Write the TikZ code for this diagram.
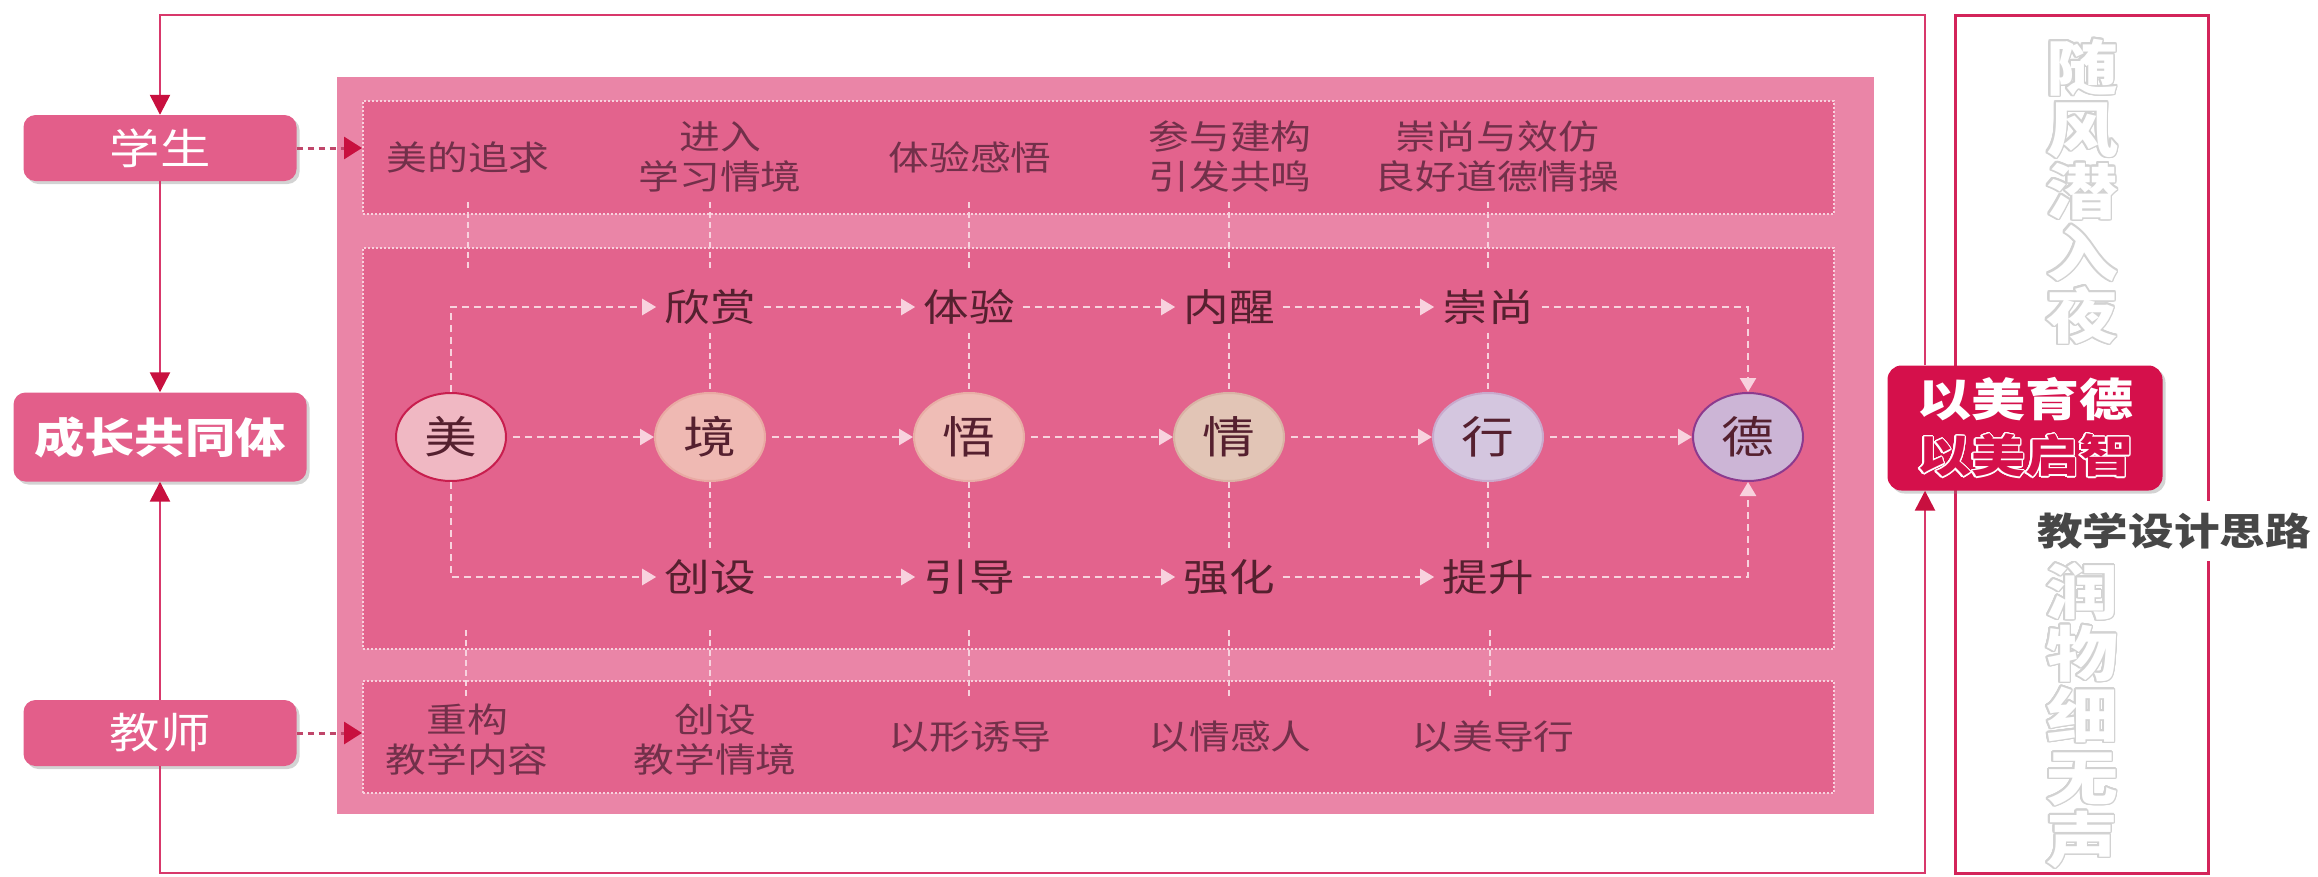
\documentclass[tikz,border=0pt]{standalone}
\usepackage{fontspec}
\usepackage[copies]{contour}
\usetikzlibrary{arrows.meta, shapes.geometric, shadows}

\newfontfamily\cjk{Noto Sans CJK SC}[FakeStretch=1.2]
\contournumber{24}

\definecolor{framered}{HTML}{D8386B}
\definecolor{tipred}{HTML}{C8103F}
\definecolor{panelpink}{HTML}{EA85A7}
\definecolor{bandpink}{HTML}{E3638D}
\definecolor{sidepink}{HTML}{E35E8A}
\definecolor{goalred}{HTML}{D5104B}
\definecolor{dashpink}{HTML}{F8D2DE}
\definecolor{inkdark}{HTML}{55202F}
\definecolor{inknote}{HTML}{72304A}
\definecolor{askred}{HTML}{C0466A}
\definecolor{poemgrey}{HTML}{D2D2D2}
\definecolor{titlegrey}{HTML}{474747}

\newcommand{\rim}[3]{{\contourlength{#1}\contour{#2}{#3}}}

\begin{document}
\begin{tikzpicture}[x=1pt, y=-1pt,
	side box/.style={rounded corners=12pt, fill=sidepink, text=white,
		drop shadow={opacity=0.35, shadow xshift=3pt, shadow yshift=-3pt},
		minimum width=273pt, minimum height=66pt, inner sep=0pt,
		font=\cjk\fontsize{42}{42}\selectfont},
	band/.style={anchor=north west, fill=bandpink, draw=dashpink, line width=1.5pt,
		dash pattern=on 2pt off 2pt, minimum width=1471pt, inner sep=0pt},
	stage/.style={ellipse, minimum width=110pt, minimum height=88pt, inner sep=0pt,
		line width=2pt, text=inkdark, font=\cjk\fontsize{44}{44}\selectfont},
	route/.style={inner sep=8pt, text=inkdark, font=\cjk\fontsize{38}{38}\selectfont},
	note/.style={align=center, text=inknote, font=\cjk\fontsize{34}{40}\selectfont},
	flow/.style={draw=dashpink, line width=2.5pt, dash pattern=on 7pt off 5pt,
		-{Triangle[length=14pt, width=16pt]}},
	guide/.style={draw=dashpink, line width=2pt, dash pattern=on 6pt off 4pt},
	frame line/.style={draw=framered, line width=2.5pt},
	tip/.style={-{Triangle[length=20pt, width=20pt, color=tipred]}},
	ask/.style={draw=askred, line width=3pt, dash pattern=on 6pt off 5pt,
		-{Triangle[length=18pt, width=22pt, color=tipred]}},
	goal box/.style={rounded corners=14pt, fill=goalred, text=white, align=center,
		drop shadow={opacity=0.35, shadow xshift=3pt, shadow yshift=-3pt},
		minimum width=275pt, minimum height=125pt, inner sep=0pt,
		font=\cjk\bfseries\fontsize{45}{56}\selectfont},
	poem/.style={align=center, text=white, font=\cjk\bfseries\fontsize{60}{62}\selectfont},
	]
	\useasboundingbox (0,0) rectangle (2318,876);

	\coordinate (frame top left) at (160,15);
	\coordinate (frame top right) at (1925,15);
	\coordinate (frame bottom right) at (1925,873);
	\coordinate (frame bottom left) at (160,873);

	%left column
	\node[side box] (student) at (160,148) {学生};
	\node[side box, minimum width=293pt, minimum height=89pt,
		font=\cjk\bfseries\fontsize{42}{42}\selectfont] (community) at (160,437) {成长共同体};
	\node[side box] (teacher) at (160,733) {教师};

	%main panel
	\fill[panelpink] (337,77) rectangle (1874,814);
	\node[band, minimum height=113pt] (pursuit band) at (362,100) {};
	\node[band, minimum height=401pt] (process band) at (362,247) {};
	\node[band, minimum height=112pt] (guide band) at (362,680) {};

	%stages
	\node[stage, fill={rgb,255:red,240;green,184;blue,195}, draw={rgb,255:red,200;green,30;blue,78}] (mei) at (451,437) {美};
	\node[stage, fill={rgb,255:red,239;green,185;blue,179}, draw={rgb,255:red,233;green,169;blue,163}] (jing) at (710,437) {境};
	\node[stage, fill={rgb,255:red,239;green,189;blue,182}, draw={rgb,255:red,232;green,174;blue,166}] (wu) at (969,437) {悟};
	\node[stage, fill={rgb,255:red,226;green,197;blue,182}, draw={rgb,255:red,217;green,179;blue,165}] (qing) at (1229,437) {情};
	\node[stage, fill={rgb,255:red,212;green,198;blue,223}, draw={rgb,255:red,201;green,169;blue,204}] (xing) at (1488,437) {行};
	\node[stage, fill={rgb,255:red,204;green,181;blue,214}, draw={rgb,255:red,140;green,58;blue,142}] (de) at (1748,437) {德};

	%upper and lower routes
	\node[route] (xinshang) at (710,307) {欣赏};
	\node[route] (tiyan) at (969,307) {体验};
	\node[route] (neixing) at (1229,307) {内醒};
	\node[route] (chongshang) at (1488,307) {崇尚};
	\node[route] (chuangshe) at (710,577) {创设};
	\node[route] (yindao) at (969,577) {引导};
	\node[route] (qianghua) at (1229,577) {强化};
	\node[route] (tisheng) at (1488,577) {提升};

	%student notes
	\node[note] (pursuit) at (468,158) {美的追求};
	\node[note] (enter) at (720,157) {进入\\学习情境};
	\node[note] (feel) at (970,157) {体验感悟};
	\node[note] (build) at (1230,157) {参与建构\\引发共鸣};
	\node[note] (admire) at (1497,157) {崇尚与效仿\\良好道德情操};

	%teacher notes
	\node[note] (rebuild) at (467,740) {重构\\教学内容};
	\node[note] (create) at (715,740) {创设\\教学情境};
	\node[note] (shape) at (970,737) {以形诱导};
	\node[note] (emotion) at (1230,737) {以情感人};
	\node[note] (beauty) at (1493,737) {以美导行};

	%column guides
	\foreach \u/\c/\l in {xinshang/jing/chuangshe, tiyan/wu/yindao, neixing/qing/qianghua, chongshang/xing/tisheng}
	{
		\draw[guide] (\u.south) -- (\c.north);
		\draw[guide] (\c.south) -- (\l.north);
	}
	\foreach \x in {468,710,969,1229,1488}
		\draw[guide] (\x,202) -- (\x,268);
	\foreach \x in {466,710,969,1229,1490}
		\draw[guide] (\x,630) -- (\x,697);

	%flows
	\foreach \a/\b in {mei/jing, jing/wu, wu/qing, qing/xing, xing/de}
		\draw[flow, shorten <=6pt] (\a.east) -- (\b.west);
	\foreach \a/\b in {xinshang/tiyan, tiyan/neixing, neixing/chongshang, chuangshe/yindao, yindao/qianghua, qianghua/tisheng}
		\draw[flow] (\a.east) -- (\b.west);
	\draw[flow] (mei.north) |- (xinshang.west);
	\draw[flow] (mei.south) |- (chuangshe.west);
	\draw[flow] (chongshang.east) -| (de.north);
	\draw[flow] (tisheng.east) -| (de.south);

	%right side
	\draw[draw={rgb,255:red,211;green,36;blue,90}, line width=3pt] (1955,15) rectangle (2208,873);
	\node[poem] (poem top) at (2082,192) {\rim{1.5pt}{poemgrey}{随}\\\rim{1.5pt}{poemgrey}{风}\\\rim{1.5pt}{poemgrey}{潜}\\\rim{1.5pt}{poemgrey}{入}\\\rim{1.5pt}{poemgrey}{夜}};
	\node[poem] (poem bottom) at (2082,716) {\rim{1.5pt}{poemgrey}{润}\\\rim{1.5pt}{poemgrey}{物}\\\rim{1.5pt}{poemgrey}{细}\\\rim{1.5pt}{poemgrey}{无}\\\rim{1.5pt}{poemgrey}{声}};
	\node[goal box] (goal) at (2025,428) {以美育德\\{\color{goalred}\rim{1.2pt}{white}{以美启智}}};
	\node[fill=white, inner xsep=4pt, inner ysep=12pt, text=titlegrey,
		font=\cjk\bfseries\fontsize{38}{38}\selectfont] (title) at (2174,531) {教学设计思路};

	%frame
	\draw[frame line, tip] (goal.north -| frame top right) -- (frame top right) -- (frame top left) -- (student.north);
	\draw[frame line, tip] (student.south) -- (community.north);
	\draw[frame line, tip] (teacher.north) -- (community.south);
	\draw[frame line, tip] (teacher.south) -- (frame bottom left) -- (frame bottom right) -- (goal.south -| frame bottom right);

	\draw[ask] (student.east) -- (student.east -| pursuit band.west);
	\draw[ask] (teacher.east) -- (teacher.east -| guide band.west);
\end{tikzpicture}
\end{document}
